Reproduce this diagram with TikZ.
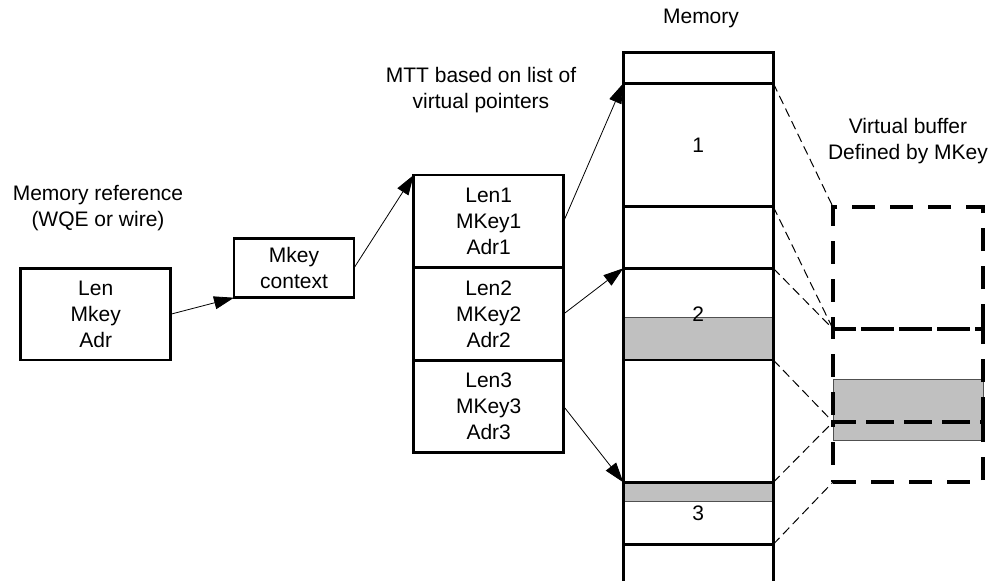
\documentclass[tikz,border=0pt]{standalone}
\usepackage{fontspec}
\setmainfont{Liberation Sans}
\usetikzlibrary{positioning, arrows.meta}
\definecolor{InkBlack}{RGB}{0, 0, 0}
\definecolor{SilverFill}{RGB}{192, 192, 192}
\definecolor{EdgeGrey}{RGB}{80, 80, 80}

\begin{document}
\begin{tikzpicture}[x=1pt, y=-1pt,
    font=\fontsize{21}{26}\selectfont,
    box/.style={draw=InkBlack, line width=2.8pt, inner sep=0pt, outer sep=0pt, align=center, minimum width=150pt},
    memblk/.style={draw=InkBlack, line width=2.8pt, inner sep=0pt, outer sep=0pt, minimum width=150pt},
    vbox/.style={draw=InkBlack, line width=4pt, dash pattern=on 23pt off 15pt, inner sep=0pt, outer sep=0pt, minimum width=150pt},
    ptr/.style={InkBlack, line width=0.8pt, -{Triangle[length=20pt, width=13pt]}},
    proj/.style={InkBlack, line width=1pt, dash pattern=on 9pt off 5pt}]
    \useasboundingbox (0,0) rectangle (994,581);
    \clip (0,0) rectangle (994,581);

    % Memory reference
    \node[align=center] (reftitle) at (98,208) {Memory reference\\(WQE or wire)};
    \node[box, minimum height=91.7pt] (memref) at (95.7,314.2) {Len\\Mkey\\Adr};

    % Mkey context
    \node[box, minimum width=120pt, minimum height=59.4pt] (ctx) at (294,268) {Mkey\\context};

    % MTT
    \node[align=center] (mtttitle) at (481,90) {MTT based on list of\\virtual pointers};
    \node[box, minimum height=92.6pt, anchor=north] (mtt1) at (488.7,175) {Len1\\MKey1\\Adr1};
    \node[box, minimum height=92.6pt, below=0pt of mtt1] (mtt2) {Len2\\MKey2\\Adr2};
    \node[box, minimum height=92.6pt, below=0pt of mtt2] (mtt3) {Len3\\MKey3\\Adr3};

    % Memory (grey parts first)
    \node (memtitle) at (701,18) {Memory};
    \filldraw[fill=SilverFill, draw=EdgeGrey, line width=0.8pt] (623.3,317.3) rectangle (773.3,360);
    \filldraw[fill=SilverFill, draw=EdgeGrey, line width=0.8pt] (623.3,482.3) rectangle (773.3,501);
    \node[memblk, minimum height=30.6pt, anchor=north] (blk0) at (698.3,52.7) {};
    \node[memblk, minimum height=123.4pt, below=0pt of blk0] (blk1) {1};
    \node[memblk, minimum height=61.6pt, below=0pt of blk1] (blkg) {};
    \node[memblk, minimum height=91.7pt, below=0pt of blkg] (blk2) {2};
    \node[memblk, minimum height=122.3pt, below=0pt of blk2] (blkh) {};
    \node[memblk, minimum height=62pt, below=0pt of blkh] (blk3) {3};
    \node[memblk, minimum height=80pt, below=0pt of blk3] (blk4) {};

    % Virtual buffer
    \node[align=center] (vtitle) at (908,141.5) {Virtual buffer\\Defined by MKey};
    \filldraw[fill=SilverFill, draw=EdgeGrey, line width=0.8pt] (833,379) rectangle (983,440);
    \node[vbox, minimum height=122pt, anchor=north west] (vbuf1) at (833,207) {};
    \node[vbox, minimum height=93pt, below=0pt of vbuf1] (vbuf2) {};
    \node[vbox, minimum height=60pt, below=0pt of vbuf2] (vbuf3) {};

    % Pointers
    \draw[ptr] (memref.east) -- (ctx.south west);
    \draw[ptr] (ctx.east) -- (mtt1.north west);
    \draw[ptr] (mtt1.east) -- (blk1.north west);
    \draw[ptr] (mtt2.east) -- (blk2.north west);
    \draw[ptr] (mtt3.east) -- (blk3.north west);

    % Projection
    \draw[proj] (blk1.north east) -- (vbuf1.north west);
    \draw[proj] (blk1.south east) -- (vbuf1.south west);
    \draw[proj] (blk2.north east) -- (vbuf2.north west);
    \draw[proj] (blk2.south east) -- (vbuf2.south west);
    \draw[proj] (blk3.north east) -- (vbuf3.north west);
    \draw[proj] (blk3.south east) -- (vbuf3.south west);
\end{tikzpicture}
\end{document}
